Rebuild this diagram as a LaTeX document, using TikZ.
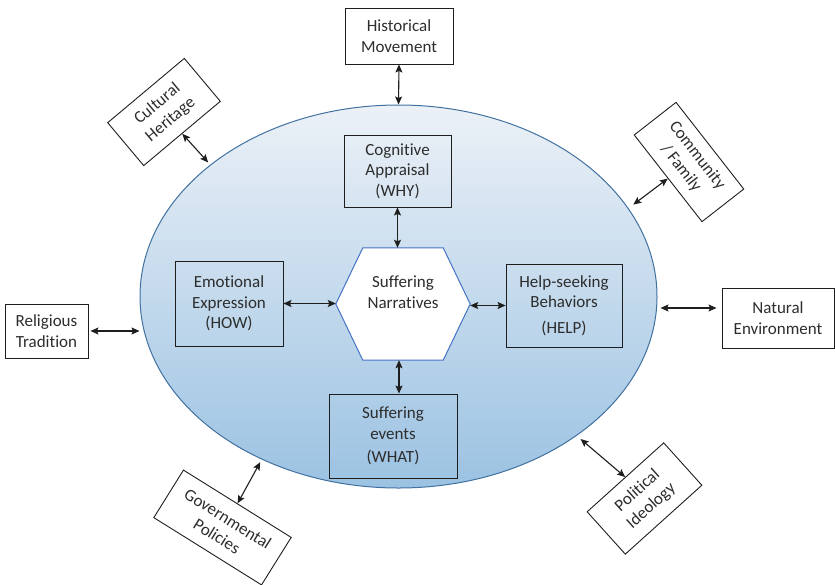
\documentclass[tikz,border=0pt]{standalone}
\usepackage{fontspec}
\setmainfont{Carlito}[Ligatures={NoCommon}]
\usetikzlibrary{arrows.meta,calc,shapes.geometric}
\definecolor{txt}{RGB}{45,45,45}
\definecolor{boxc}{RGB}{30,30,30}
\definecolor{ellc}{RGB}{65,113,160}
\definecolor{elltop}{RGB}{236,241,247}
\definecolor{ellbot}{RGB}{155,194,226}
\definecolor{hexc}{RGB}{68,114,196}
\begin{document}
\begin{tikzpicture}[x=1pt,y=-1pt,
  font=\fontsize{17}{20.5}\selectfont,
  box/.style={draw=boxc, line width=0.9pt, align=center, inner sep=2pt, text=txt},
  arr/.style={{Stealth[length=8pt,width=7pt,inset=1.5pt]}-{Stealth[length=8pt,width=7pt,inset=1.5pt]}, line width=1.1pt, draw=boxc},
  ell/.style={ellipse, draw=ellc, line width=1pt, top color=elltop, bottom color=ellbot, minimum width=517pt, minimum height=383pt, inner sep=0pt}
]
\useasboundingbox (0,0) rectangle (835,584);

\node[ell] (ell) at (398.5,296.5) {};

% hexagon
\node[minimum width=134pt, minimum height=112pt, inner sep=0pt] (hex) at (403,304) {};
\draw[draw=hexc, fill=white, line width=1pt] (hex.west) -- ($(hex.north west)+(27,0)$) -- ($(hex.north east)+(-27,0)$) -- (hex.east) -- ($(hex.south east)+(-27,0)$) -- ($(hex.south west)+(27,0)$) -- cycle;
\node[align=center, text=txt] (hexlbl) at (403,292) {Suffering\\Narratives};

% inner boxes
\node[box, minimum width=107pt, minimum height=72pt] (cog) at (397.5,171) {Cognitive\\Appraisal\\(WHY)};
\node[box, minimum width=108pt, minimum height=85pt] (emo) at (229,303.5) {Emotional\\Expression\\(HOW)};
\node[box, minimum width=116pt, minimum height=83pt] (help) at (564,305.5) {Help-seeking\\Behaviors\\[5pt](HELP)};
\node[box, minimum width=128pt, minimum height=84pt] (what) at (393,436) {Suffering\\events\\[3pt](WHAT)};

% outer boxes
\node[box, minimum width=108pt, minimum height=56pt] (hist) at (399,36) {Historical\\Movement};
\node[box, minimum width=83pt, minimum height=54pt] (rel) at (46.5,331) {Religious\\Tradition};
\node[box, minimum width=112pt, minimum height=60pt] (nat) at (778,318) {Natural\\Environment};
\node[box, minimum width=100pt, minimum height=56pt, rotate=40] (cult) at (164,112) {Cultural\\Heritage};
\node[box, minimum width=110pt, minimum height=53pt, rotate=-52] (comm) at (689,162) {Community\\/ Family};
\node[box, minimum width=127pt, minimum height=56pt, rotate=-32] (gov) at (222.5,527.5) {Governmental\\Policies};
\node[box, minimum width=103pt, minimum height=57pt, rotate=42] (pol) at (644.5,498.5) {Political\\Ideology};

% connectors
\draw[arr] (hist.south) -- (ell.north);
\draw[arr, shorten >=3pt] (cult.south) -- (ell.145);
\draw[arr, shorten >=6pt] (comm.south) -- (ell.21);
\draw[arr, shorten <=2pt] (rel.east) -- (rel.east -| ell.west);
\draw[arr, shorten <=3pt, shorten >=5pt] ([yshift=10pt]nat.west -| ell.east) -- ([yshift=10pt]nat.west);
\draw[arr, shorten >=3pt] (gov.north) -- (ell.-130);
\draw[arr, shorten >=5pt] (pol.north) -- (ell.-38);

\draw[arr] (cog.south) -- (cog.south |- hex.north);
\draw[arr] (emo.east) -- (emo.east -| hex.west);
\draw[arr] (hex.east |- help.west) -- (help.west);
\draw[arr] ([xshift=-4pt]hex.south) -- ([xshift=-4pt]hex.south |- what.north);
\end{tikzpicture}
\end{document}
